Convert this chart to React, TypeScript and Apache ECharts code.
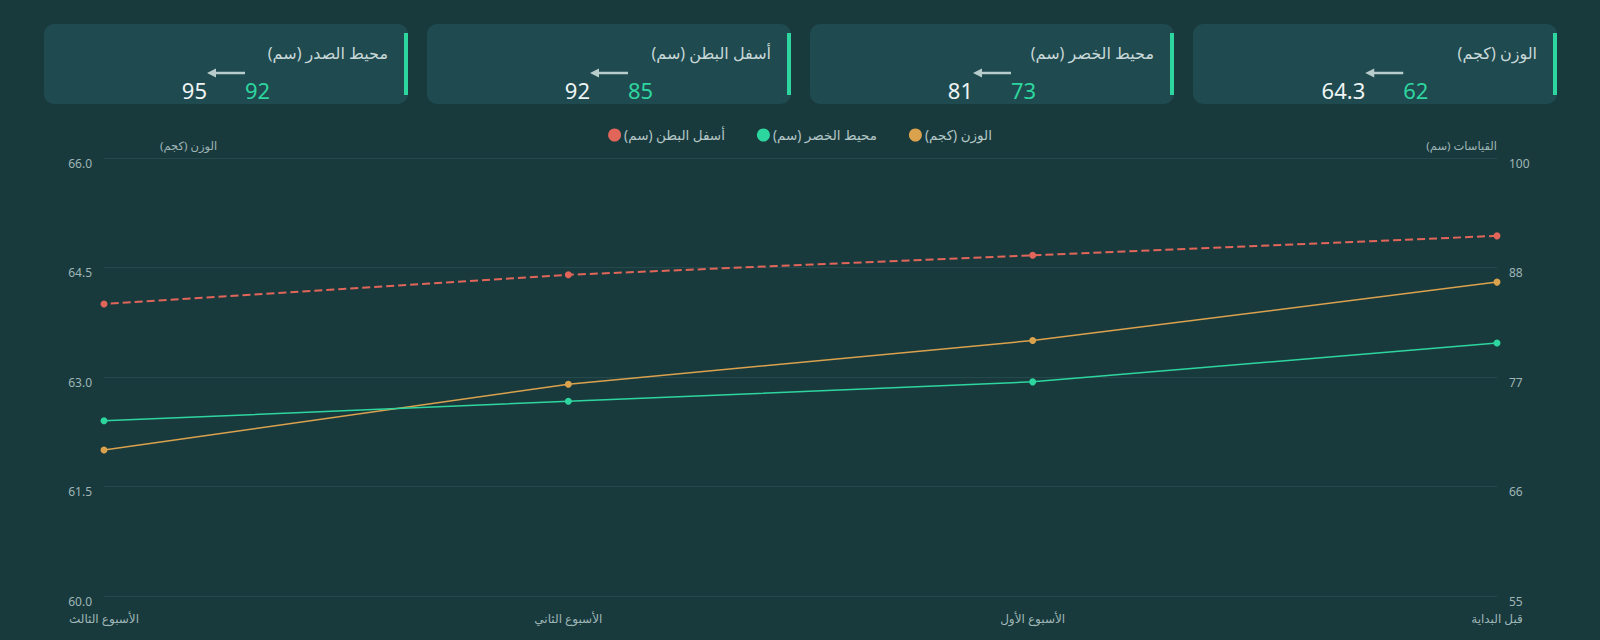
import React, { useEffect, useRef } from "react";
import * as echarts from "echarts";

const categories = ["قبل البداية", "الأسبوع الأول", "الأسبوع الثاني", "الأسبوع الثالث"];
const weightName = "الوزن (كجم)";
const waistName = "محيط الخصر (سم)";
const abdomenName = "أسفل البطن (سم)";
const weightValues = [64.3, 63.5, 62.9, 62];
const waistValues = [81, 77, 75, 73];
const abdomenValues = [92, 90, 88, 85];

const cardTitles = ["محيط الصدر (سم)", "أسفل البطن (سم)", "محيط الخصر (سم)", "الوزن (كجم)"];
const cardStart = ["95", "92", "81", "64.3"];
const cardCurrent = ["92", "85", "73", "62"];

const FONT = '"Noto Sans", "DejaVu Sans", sans-serif';
const BG = "#193a3d";
const CARD = "#1f4a4f";
const GREEN = "#2ed69f";
const ORANGE = "#dba24e";
const RED = "#e2655a";
const MUTED = "#9fb6b6";

function measure(text: string, size: number): number {
  const c = document.createElement("canvas").getContext("2d");
  if (!c) return text.length * size * 0.58;
  c.font = `${size}px ${FONT}`;
  return c.measureText(text).width;
}

export default function App() {
  const ref = useRef<HTMLDivElement>(null);
  useEffect(() => {
    if (!ref.current) return;
    const chart = echarts.init(ref.current, undefined, { renderer: "svg" });

    const cardX0 = 44, cardW = 364, cardGap = 19, cardY = 24, cardH = 80;
    const graphics: any[] = [];
    cardTitles.forEach((t, i) => {
      const x = cardX0 + i * (cardW + cardGap);
      graphics.push({ type: "rect", shape: { x, y: cardY, width: cardW, height: cardH, r: 10 }, style: { fill: CARD }, silent: true });
      graphics.push({ type: "rect", shape: { x: x + cardW - 4, y: cardY + 9, width: 4, height: 62 }, style: { fill: GREEN }, silent: true });
      graphics.push({ type: "text", x: x + cardW - 20, y: cardY + 29, style: { text: t, fill: "#c8d8d8", font: `16px ${FONT}`, align: "right", verticalAlign: "middle" } });
      const ww = measure(cardStart[i], 22);
      const gw = measure(cardCurrent[i], 22);
      const arrowW = 38;
      const cx = x + cardW / 2;
      const arrowLeft = cx - arrowW / 2 + (ww - gw) / 2;
      const ay = cardY + 49;
      graphics.push({ type: "text", x: arrowLeft, y: cardY + 66, style: { text: cardStart[i], fill: "#eef4f4", font: `22px ${FONT}`, align: "right", verticalAlign: "middle" } });
      graphics.push({ type: "text", x: arrowLeft + arrowW, y: cardY + 66, style: { text: cardCurrent[i], fill: GREEN, font: `22px ${FONT}`, align: "left", verticalAlign: "middle" } });
      graphics.push({ type: "line", shape: { x1: arrowLeft + 6, y1: ay, x2: arrowLeft + arrowW, y2: ay }, style: { stroke: "#b9cccc", lineWidth: 2.5 }, silent: true });
      graphics.push({ type: "polygon", shape: { points: [[arrowLeft, ay], [arrowLeft + 9, ay - 4.5], [arrowLeft + 9, ay + 4.5]] }, style: { fill: "#b9cccc" }, silent: true });
    });

    const yLabel = { color: MUTED, fontSize: 12, margin: 12, verticalAlign: "top", lineHeight: 10, fontFamily: FONT };

    chart.setOption({
      animation: false,
      backgroundColor: BG,
      textStyle: { fontFamily: FONT },
      graphic: graphics,
      legend: {
        top: 123,
        left: "center",
        itemWidth: 13,
        itemHeight: 13,
        itemGap: 32,
        icon: "circle",
        data: [abdomenName, waistName, weightName],
        textStyle: { color: "#b3c6c6", fontSize: 13.5, fontFamily: FONT, padding: [0, 0, 0, -2] },
      },
      grid: { left: 104, right: 103, top: 158, bottom: 44 },
      xAxis: {
        type: "category",
        data: categories,
        inverse: true,
        boundaryGap: false,
        axisLine: { show: false },
        axisTick: { show: false },
        axisLabel: { color: MUTED, fontSize: 12, margin: 16, fontFamily: FONT },
        splitLine: { show: false },
      },
      yAxis: [
        {
          type: "value",
          name: weightName,
          nameLocation: "end",
          nameGap: 7,
          nameTextStyle: { color: MUTED, fontSize: 11.5, align: "left", padding: [0, 0, 0, 56], fontFamily: FONT },
          min: 60,
          max: 66,
          interval: 1.5,
          axisLine: { show: false },
          axisTick: { show: false },
          axisLabel: { ...yLabel, formatter: (v: number) => v.toFixed(1) },
          splitLine: { lineStyle: { color: "#25494c", width: 1 } },
        },
        {
          type: "value",
          name: "القياسات (سم)",
          nameLocation: "end",
          nameGap: 7,
          nameTextStyle: { color: MUTED, fontSize: 11.5, align: "right", fontFamily: FONT },
          min: 55,
          max: 100,
          alignTicks: true,
          axisLine: { show: false },
          axisTick: { show: false },
          axisLabel: { ...yLabel, formatter: (v: number) => String(Math.floor(v)) },
          splitLine: { show: false },
        },
      ],
      series: [
        {
          name: weightName,
          type: "line",
          yAxisIndex: 0,
          data: weightValues,
          symbol: "circle",
          symbolSize: 7,
          itemStyle: { color: ORANGE },
          lineStyle: { color: ORANGE, width: 1.5 },
        },
        {
          name: waistName,
          type: "line",
          yAxisIndex: 1,
          data: waistValues,
          symbol: "circle",
          symbolSize: 7,
          itemStyle: { color: GREEN },
          lineStyle: { color: GREEN, width: 1.5 },
        },
        {
          name: abdomenName,
          type: "line",
          yAxisIndex: 1,
          data: abdomenValues,
          symbol: "circle",
          symbolSize: 7,
          itemStyle: { color: RED },
          lineStyle: { color: RED, width: 2, type: "dashed" },
        },
      ],
    });
    return () => chart.dispose();
  }, []);
  return (
    <div
      ref={ref}
      style={{ position: "fixed", left: 0, top: 0, width: 1600, height: 640, background: BG }}
    />
  );
}
